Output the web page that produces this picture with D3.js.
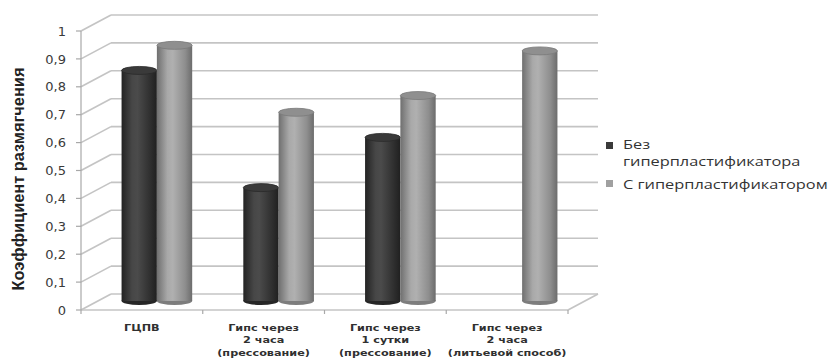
<!DOCTYPE html>
<html>
<head>
<meta charset="utf-8">
<script src="https://cdn.jsdelivr.net/npm/d3@7"></script>
<style>
  html, body { margin: 0; padding: 0; background: #fff; }
  svg { display: block; }
</style>
</head>
<body>
<svg id="chart" width="830" height="358"></svg>
<script>
// Softening coefficient of gypsum binders, with and without superplasticizer
const categories = [
  ["ГЦПВ"],
  ["Гипс через", "2 часа", "(прессование)"],
  ["Гипс через", "1 сутки", "(прессование)"],
  ["Гипс через", "2 часа", "(литьевой способ)"]
];
const seriesNames = ["Без гиперпластификатора", "С гиперпластификатором"];
const withoutSP = [0.83, 0.41, 0.59, null];
const withSP = [0.92, 0.68, 0.74, 0.90];
const yTicks = [0, 0.1, 0.2, 0.3, 0.4, 0.5, 0.6, 0.7, 0.8, 0.9, 1];
const yTitle = "Коэффициент размягчения";

const svg = d3.select("#chart");

// 3D box geometry: front plane and depth offset
const front = { left: 81, right: 568, bottom: 310, top: 31 };
const depth = { dx: 30, dy: -16 };
const mid = { dx: depth.dx / 2, dy: depth.dy / 2 };

const catKeys = categories.map((c, i) => "c" + i);
const x = d3.scaleBand().domain(catKeys).range([front.left, front.right])
  .paddingInner(0.42).paddingOuter(0.21);
const xs = d3.scaleBand().domain([0, 1]).range([0, x.bandwidth()]);
const y = d3.scaleLinear().domain([0, 1]).range([front.bottom, front.top]);

const fmt = v => d3.format(".1f")(v).replace(".", ",").replace(/^0,0$/, "0").replace(/^1,0$/, "1");

// stretch a text selection horizontally about anchor ax so it spans `target` px
function fitWidth(sel, ax, target) {
  const w = sel.node().getBBox().width;
  const k = target / w;
  sel.attr("transform", `translate(${ax},0) scale(${k},1) translate(${-ax},0)`);
}

const gridColor = "#c4c4c4";
const defs = svg.append("defs");

function cylGradient(id, stops) {
  const g = defs.append("linearGradient").attr("id", id)
    .attr("x1", "0%").attr("x2", "100%").attr("y1", "0%").attr("y2", "0%");
  stops.forEach(s => g.append("stop").attr("offset", s[0]).attr("stop-color", s[1]));
}
cylGradient("gDark", [["0%", "#232323"], ["30%", "#474747"], ["45%", "#4b4b4b"], ["80%", "#303030"], ["100%", "#202020"]]);
cylGradient("gLight", [["0%", "#6f6f6f"], ["30%", "#a9a9a9"], ["45%", "#b0b0b0"], ["80%", "#8e8e8e"], ["100%", "#6c6c6c"]]);
const topFill = ["#3a3a3a", "#8f8f8f"];
const topStroke = ["#2a2a2a", "#7a7a7a"];
const baseFill = ["#262626", "#7d7d7d"];
const grads = ["url(#gDark)", "url(#gLight)"];

// back wall gridlines
const back = svg.append("g");
back.selectAll("line.grid").data(yTicks).join("line")
  .attr("x1", front.left + depth.dx).attr("x2", front.right + depth.dx)
  .attr("y1", d => y(d) + depth.dy).attr("y2", d => y(d) + depth.dy)
  .attr("stroke", gridColor).attr("stroke-width", 1.6);

// side wall diagonals
back.selectAll("line.side").data(yTicks).join("line")
  .attr("x1", front.left).attr("y1", d => y(d))
  .attr("x2", front.left + depth.dx).attr("y2", d => y(d) + depth.dy)
  .attr("stroke", gridColor).attr("stroke-width", 1.6);

// floor front and right edges
back.append("line")
  .attr("x1", front.left).attr("x2", front.right)
  .attr("y1", front.bottom).attr("y2", front.bottom)
  .attr("stroke", gridColor).attr("stroke-width", 1.6);
back.append("line")
  .attr("x1", front.right).attr("y1", front.bottom)
  .attr("x2", front.right + depth.dx).attr("y2", front.bottom + depth.dy)
  .attr("stroke", gridColor).attr("stroke-width", 1.6);

// cylinders
const ry = 4;
const bars = [];
[withoutSP, withSP].forEach((vals, s) => {
  vals.forEach((v, i) => {
    if (v == null) return;
    bars.push({ s, i, v });
  });
});
const barG = svg.append("g");
bars.forEach(b => {
  const x0 = x(catKeys[b.i]) + xs(b.s) + mid.dx;
  const w = xs.bandwidth();
  const yb = y(0) + mid.dy - 1;
  const yt = y(b.v) + mid.dy;
  const g = barG.append("g");
  g.append("ellipse").attr("cx", x0 + w / 2).attr("cy", yb).attr("rx", w / 2).attr("ry", ry)
    .attr("fill", baseFill[b.s]);
  g.append("rect").attr("x", x0).attr("y", yt).attr("width", w).attr("height", yb - yt)
    .attr("fill", grads[b.s]);
  g.append("ellipse").attr("cx", x0 + w / 2).attr("cy", yt).attr("rx", w / 2).attr("ry", ry)
    .attr("fill", topFill[b.s]).attr("stroke", topStroke[b.s]).attr("stroke-width", 0.8);
});

// front vertical axis
const axG = svg.append("g");
axG.append("line").attr("x1", front.left).attr("x2", front.left)
  .attr("y1", y(1)).attr("y2", y(0)).attr("stroke", "#a8a8a8").attr("stroke-width", 1.2);
axG.selectAll("line.tick").data(yTicks).join("line")
  .attr("x1", front.left - 5).attr("x2", front.left)
  .attr("y1", d => y(d)).attr("y2", d => y(d))
  .attr("stroke", "#a8a8a8").attr("stroke-width", 1.2);
axG.selectAll("text").data(yTicks).join("text")
  .attr("x", 66).attr("y", d => y(d)).attr("dy", "0.36em")
  .attr("text-anchor", "end")
  .attr("font-family", "DejaVu Sans").attr("font-size", 13).attr("fill", "#3a3a3a")
  .text(fmt);

// category axis ticks
const bounds = d3.range(categories.length + 1).map(i => front.left + x.step() * i);
axG.selectAll("line.xt").data(bounds).join("line")
  .attr("x1", d => d).attr("x2", d => d)
  .attr("y1", front.bottom).attr("y2", front.bottom + 4)
  .attr("stroke", "#a8a8a8").attr("stroke-width", 1.2);

// category labels
const labG = svg.append("g")
  .attr("font-family", "DejaVu Sans").attr("font-weight", "bold")
  .attr("font-size", 9.5).attr("fill", "#303030").attr("text-anchor", "middle");
const labScale = (() => {
  const probe = labG.append("text").text("Гипс через");
  const w = probe.node().getBBox().width;
  probe.remove();
  return 71 / w;
})();
categories.forEach((lines, i) => {
  const cx = x(catKeys[i]) + x.bandwidth() / 2;
  const t = labG.append("text")
    .attr("transform", `translate(${cx},0) scale(${labScale},1) translate(${-cx},0)`);
  lines.forEach((ln, j) => t.append("tspan").attr("x", cx).attr("y", 331 + j * 12.3).text(ln));
});

// y axis title
const title = svg.append("text")
  .attr("text-anchor", "middle")
  .attr("font-family", "Liberation Sans, sans-serif")
  .attr("font-weight", "bold").attr("font-size", 17).attr("fill", "#222")
  .text(yTitle);
{
  const w = title.node().getBBox().width;
  const k = 223 / w;
  title.attr("transform", `translate(24,179) rotate(-90) scale(${k},1)`);
}

// legend
const leg = svg.append("g").attr("font-family", "Open Sans").attr("font-size", 12).attr("fill", "#333");
leg.append("rect").attr("x", 606).attr("y", 142).attr("width", 7).attr("height", 7).attr("fill", "#3a3a3a");
leg.append("rect").attr("x", 606).attr("y", 180).attr("width", 7).attr("height", 7).attr("fill", "#a0a0a0");
const legText = leg.append("g");
legText.append("text").attr("x", 623).attr("y", 149).text("Без");
legText.append("text").attr("x", 623).attr("y", 166).text("гиперпластификатора");
legText.append("text").attr("x", 623).attr("y", 189).text(seriesNames[1]);
fitWidth(legText, 623, 205);
</script>
</body>
</html>
